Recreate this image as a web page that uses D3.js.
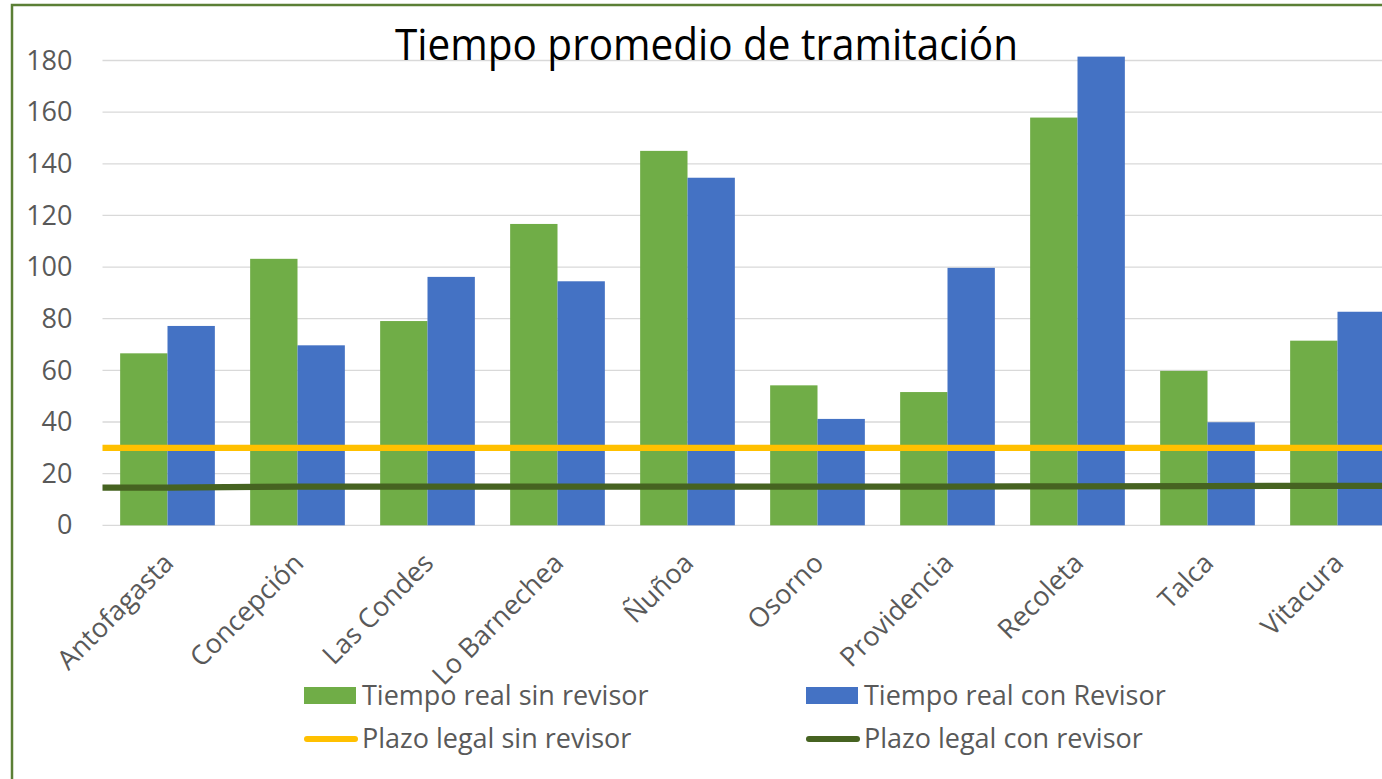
<!DOCTYPE html>
<html>
<head>
<meta charset="utf-8">
<script src="https://cdn.jsdelivr.net/npm/d3@7"></script>
<style>
  html, body { margin: 0; padding: 0; background: #fff; overflow: hidden; }
  svg { display: block; font-family: "Open Sans", "DejaVu Sans", sans-serif; }
</style>
</head>
<body>
<svg id="chart" width="1382" height="779"></svg>
<script>
const categories = ["Antofagasta", "Concepción", "Las Condes", "Lo Barnechea", "Ñuñoa", "Osorno", "Providencia", "Recoleta", "Talca", "Vitacura"];
const tiempoSinRevisor = [66.6, 103.2, 79.1, 116.7, 145.0, 54.2, 51.6, 157.9, 59.8, 71.5];
const tiempoConRevisor = [77.2, 69.7, 96.2, 94.5, 134.6, 41.2, 99.7, 181.5, 39.9, 82.7];
const plazoSinRevisor = [30, 30, 30, 30, 30, 30, 30, 30, 30, 30];
const plazoConRevisor = [14.6, 15, 15, 15, 15, 15, 15, 15.1, 15.2, 15.3];
const yTicks = [0, 20, 40, 60, 80, 100, 120, 140, 160, 180];
const seriesNames = ["Tiempo real sin revisor", "Tiempo real con Revisor", "Plazo legal sin revisor", "Plazo legal con revisor"];
const colors = { sin: "#70AD47", con: "#4472C4", plazoSin: "#FFC000", plazoCon: "#466321" };
const titleText = "Tiempo promedio de tramitación";

const svg = d3.select("#chart");
const W = 1382, H = 779;
svg.append("rect").attr("width", W).attr("height", H).attr("fill", "#fff");

// chart border
svg.append("rect").attr("x", 12).attr("y", 5).attr("width", 1420).attr("height", 820)
  .attr("fill", "none").attr("stroke", "#5b7f35").attr("stroke-width", 2.5);

const plot = { left: 102.5, right: 1402.5, top: 60.5, bottom: 525.3 };

const x0 = d3.scaleBand().domain(categories).range([plot.left, plot.right])
  .paddingInner(0.2715).paddingOuter(0.13575);
const x1 = d3.scaleBand().domain(["sin", "con"]).range([0, x0.bandwidth()]);
const y = d3.scaleLinear().domain([0, 180]).range([plot.bottom, plot.top]);

// gridlines
svg.append("g").selectAll("line").data(yTicks).join("line")
  .attr("x1", plot.left).attr("x2", plot.right)
  .attr("y1", d => y(d)).attr("y2", d => y(d))
  .attr("stroke", "#d9d9d9").attr("stroke-width", 1.3);

// y axis labels
const yAxis = d3.axisLeft(y).tickValues(yTicks).tickSize(0).tickPadding(0);
const yg = svg.append("g").attr("transform", `translate(${plot.left - 30},0)`).call(yAxis);
yg.select(".domain").remove();
yg.selectAll("text").attr("font-size", 27).attr("fill", "#595959")
  .attr("font-family", '"Open Sans", sans-serif');

// title
svg.append("text").attr("x", 706.5).attr("y", 60).attr("text-anchor", "middle")
  .attr("font-size", 44).attr("fill", "#000")
  .attr("textLength", 623).attr("lengthAdjust", "spacingAndGlyphs")
  .text(titleText);

// bars
const groups = svg.append("g").selectAll("g").data(categories).join("g")
  .attr("transform", d => `translate(${x0(d)},0)`);
groups.selectAll("rect").data((d, i) => [
  { key: "sin", v: tiempoSinRevisor[i] },
  { key: "con", v: tiempoConRevisor[i] }
]).join("rect")
  .attr("x", d => x1(d.key)).attr("width", x1.bandwidth())
  .attr("y", d => y(d.v)).attr("height", d => y(0) - y(d.v))
  .attr("fill", d => colors[d.key]);

// legal-limit lines
function linePoints(vals) {
  const pts = [[plot.left, vals[0]]];
  categories.forEach((c, i) => pts.push([x0(c) + x0.bandwidth() / 2, vals[i]]));
  pts.push([plot.right, vals[vals.length - 1]]);
  return pts;
}
const lineGen = d3.line().x(d => d[0]).y(d => y(d[1]));
svg.append("path").attr("d", lineGen(linePoints(plazoSinRevisor)))
  .attr("fill", "none").attr("stroke", colors.plazoSin).attr("stroke-width", 6.3);
svg.append("path").attr("d", lineGen(linePoints(plazoConRevisor)))
  .attr("fill", "none").attr("stroke", colors.plazoCon).attr("stroke-width", 6.3);

// category labels
svg.append("g").selectAll("text").data(categories).join("text")
  .attr("transform", d => `translate(${x0(d) + x0.bandwidth() / 2 + 1},558) rotate(-45)`)
  .attr("text-anchor", "end").attr("dy", "0.35em")
  .attr("font-size", 27).attr("fill", "#595959")
  .text(d => d);

// legend
const legendItems = [
  { name: seriesNames[0], type: "rect", color: colors.sin, x: 304, y: 696 },
  { name: seriesNames[1], type: "rect", color: colors.con, x: 806, y: 696 },
  { name: seriesNames[2], type: "line", color: colors.plazoSin, x: 304, y: 739 },
  { name: seriesNames[3], type: "line", color: colors.plazoCon, x: 806, y: 739 }
];
const lg = svg.append("g").selectAll("g").data(legendItems).join("g")
  .attr("transform", d => `translate(${d.x},${d.y})`);
lg.filter(d => d.type === "rect").append("rect")
  .attr("x", 0).attr("y", -9).attr("width", 52).attr("height", 17)
  .attr("fill", d => d.color);
lg.filter(d => d.type === "line").append("line")
  .attr("x1", 3).attr("x2", 51).attr("y1", 0).attr("y2", 0)
  .attr("stroke", d => d.color).attr("stroke-width", 6).attr("stroke-linecap", "round");
lg.append("text").attr("x", 58).attr("y", 0).attr("dy", "0.35em")
  .attr("font-size", 27).attr("fill", "#595959").text(d => d.name);
</script>
</body>
</html>
